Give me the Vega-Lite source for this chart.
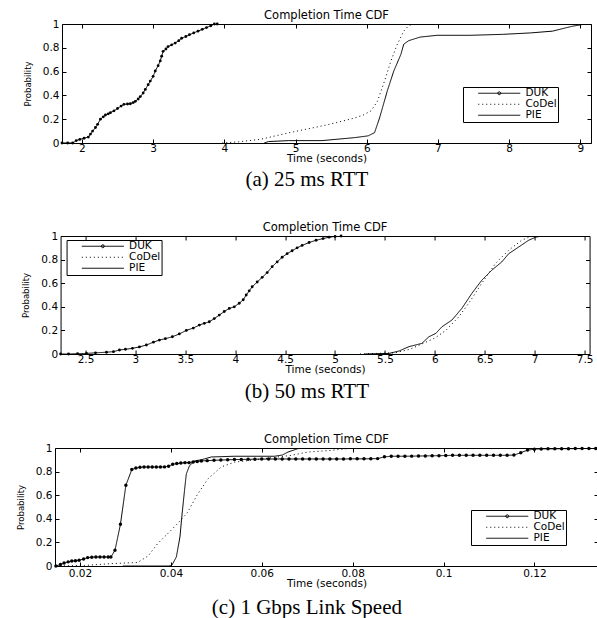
{
  "$schema": "https://vega.github.io/schema/vega-lite/v6.json",
  "padding": {"left": 14, "top": 9, "right": 0, "bottom": 0},
  "background": "white",
  "config": {
    "font": "DejaVu Sans",
    "view": {"stroke": "black", "strokeWidth": 1},
    "axis": {
      "grid": false, "domain": false, "tickSize": -4, "tickColor": "black", "tickWidth": 1,
      "labelFont": "DejaVu Sans", "labelFontSize": 10.5, "labelColor": "black", "labelPadding": 7, "labelFlush": false,
      "titleFont": "DejaVu Sans", "titleFontSize": 10.5, "titleFontWeight": "normal", "titleColor": "black", "titlePadding": 0
    },
    "axisX": {"labelPadding": 4},
    "axisY": {"labelPadding": 7, "titleFont": "'Liberation Sans Narrow', 'DejaVu Sans Condensed', 'Liberation Sans', sans-serif", "titleFontSize": 9.5, "titlePadding": 10},
    "title": {"font": "DejaVu Sans", "fontSize": 11.5, "fontWeight": "normal", "color": "black", "offset": -2},
    "legend": {
      "orient": "none", "title": null, "strokeColor": "black", "fillColor": "white", "padding": 1,
      "symbolType": "M-5,0H5", "symbolSize": 70.56, "symbolStrokeColor": "black", "symbolStrokeWidth": 1, "symbolFillColor": "transparent",
      "symbolOffset": 30, "labelOffset": 21,
      "labelFont": "DejaVu Sans", "labelFontSize": 10.5, "labelColor": "black", "rowPadding": 0
    }
  },
  "datasets": {
    "p1": [
      {"t": 1.72, "p": 0, "s": "DUK"}, {"t": 1.80, "p": 0, "s": "DUK"}, {"t": 1.87, "p": 0, "s": "DUK"}, {"t": 1.92, "p": 0.02, "s": "DUK"},
      {"t": 1.97, "p": 0.03, "s": "DUK"}, {"t": 2.03, "p": 0.04, "s": "DUK"}, {"t": 2.09, "p": 0.05, "s": "DUK"}, {"t": 2.12, "p": 0.075, "s": "DUK"},
      {"t": 2.15, "p": 0.10, "s": "DUK"}, {"t": 2.19, "p": 0.13, "s": "DUK"}, {"t": 2.22, "p": 0.157, "s": "DUK"}, {"t": 2.26, "p": 0.20, "s": "DUK"},
      {"t": 2.30, "p": 0.22, "s": "DUK"}, {"t": 2.33, "p": 0.235, "s": "DUK"}, {"t": 2.37, "p": 0.245, "s": "DUK"}, {"t": 2.40, "p": 0.255, "s": "DUK"},
      {"t": 2.45, "p": 0.27, "s": "DUK"}, {"t": 2.50, "p": 0.29, "s": "DUK"}, {"t": 2.55, "p": 0.31, "s": "DUK"}, {"t": 2.59, "p": 0.325, "s": "DUK"},
      {"t": 2.64, "p": 0.328, "s": "DUK"}, {"t": 2.68, "p": 0.33, "s": "DUK"}, {"t": 2.72, "p": 0.34, "s": "DUK"}, {"t": 2.75, "p": 0.35, "s": "DUK"},
      {"t": 2.79, "p": 0.37, "s": "DUK"}, {"t": 2.82, "p": 0.39, "s": "DUK"}, {"t": 2.86, "p": 0.42, "s": "DUK"}, {"t": 2.89, "p": 0.45, "s": "DUK"},
      {"t": 2.93, "p": 0.49, "s": "DUK"}, {"t": 2.96, "p": 0.52, "s": "DUK"}, {"t": 3.00, "p": 0.56, "s": "DUK"}, {"t": 3.03, "p": 0.605, "s": "DUK"},
      {"t": 3.07, "p": 0.65, "s": "DUK"}, {"t": 3.10, "p": 0.69, "s": "DUK"}, {"t": 3.12, "p": 0.73, "s": "DUK"}, {"t": 3.14, "p": 0.77, "s": "DUK"},
      {"t": 3.18, "p": 0.79, "s": "DUK"}, {"t": 3.21, "p": 0.81, "s": "DUK"}, {"t": 3.26, "p": 0.825, "s": "DUK"}, {"t": 3.31, "p": 0.84, "s": "DUK"},
      {"t": 3.36, "p": 0.86, "s": "DUK"}, {"t": 3.40, "p": 0.88, "s": "DUK"}, {"t": 3.46, "p": 0.895, "s": "DUK"}, {"t": 3.51, "p": 0.91, "s": "DUK"},
      {"t": 3.57, "p": 0.925, "s": "DUK"}, {"t": 3.63, "p": 0.94, "s": "DUK"}, {"t": 3.69, "p": 0.955, "s": "DUK"}, {"t": 3.75, "p": 0.97, "s": "DUK"},
      {"t": 3.81, "p": 0.985, "s": "DUK"}, {"t": 3.86, "p": 1.0, "s": "DUK"}, {"t": 3.90, "p": 1.0, "s": "DUK"},
      {"t": 3.97, "p": 0, "s": "CoDel"}, {"t": 4.2, "p": 0.01, "s": "CoDel"}, {"t": 4.5, "p": 0.03, "s": "CoDel"}, {"t": 4.9, "p": 0.085, "s": "CoDel"},
      {"t": 5.1, "p": 0.11, "s": "CoDel"}, {"t": 5.37, "p": 0.143, "s": "CoDel"}, {"t": 5.6, "p": 0.175, "s": "CoDel"}, {"t": 5.83, "p": 0.21, "s": "CoDel"},
      {"t": 5.95, "p": 0.235, "s": "CoDel"}, {"t": 6.06, "p": 0.27, "s": "CoDel"}, {"t": 6.15, "p": 0.35, "s": "CoDel"}, {"t": 6.25, "p": 0.52, "s": "CoDel"},
      {"t": 6.34, "p": 0.69, "s": "CoDel"}, {"t": 6.43, "p": 0.83, "s": "CoDel"}, {"t": 6.52, "p": 0.94, "s": "CoDel"}, {"t": 6.58, "p": 0.98, "s": "CoDel"},
      {"t": 6.64, "p": 1.0, "s": "CoDel"},
      {"t": 4.56, "p": 0.0, "s": "PIE"}, {"t": 4.62, "p": 0.012, "s": "PIE"}, {"t": 4.9, "p": 0.02, "s": "PIE"}, {"t": 5.37, "p": 0.02, "s": "PIE"},
      {"t": 5.83, "p": 0.045, "s": "PIE"}, {"t": 6.02, "p": 0.06, "s": "PIE"}, {"t": 6.11, "p": 0.087, "s": "PIE"}, {"t": 6.18, "p": 0.21, "s": "PIE"},
      {"t": 6.29, "p": 0.44, "s": "PIE"}, {"t": 6.38, "p": 0.605, "s": "PIE"}, {"t": 6.48, "p": 0.745, "s": "PIE"}, {"t": 6.52, "p": 0.83, "s": "PIE"},
      {"t": 6.59, "p": 0.86, "s": "PIE"}, {"t": 6.75, "p": 0.89, "s": "PIE"}, {"t": 6.99, "p": 0.905, "s": "PIE"}, {"t": 7.45, "p": 0.905, "s": "PIE"},
      {"t": 7.91, "p": 0.913, "s": "PIE"}, {"t": 8.3, "p": 0.925, "s": "PIE"}, {"t": 8.61, "p": 0.94, "s": "PIE"}, {"t": 8.88, "p": 0.98, "s": "PIE"},
      {"t": 9.07, "p": 1.0, "s": "PIE"}, {"t": 9.15, "p": 1.0, "s": "PIE"}
    ],
    "p2": [
      {"t": 2.25, "p": 0, "s": "DUK"}, {"t": 2.33, "p": 0, "s": "DUK"}, {"t": 2.42, "p": 0.003, "s": "DUK"}, {"t": 2.51, "p": 0.005, "s": "DUK"},
      {"t": 2.6, "p": 0.01, "s": "DUK"}, {"t": 2.71, "p": 0.015, "s": "DUK"}, {"t": 2.78, "p": 0.02, "s": "DUK"}, {"t": 2.84, "p": 0.034, "s": "DUK"},
      {"t": 2.9, "p": 0.04, "s": "DUK"}, {"t": 2.97, "p": 0.048, "s": "DUK"}, {"t": 3.04, "p": 0.06, "s": "DUK"}, {"t": 3.11, "p": 0.076, "s": "DUK"},
      {"t": 3.18, "p": 0.1, "s": "DUK"}, {"t": 3.24, "p": 0.118, "s": "DUK"}, {"t": 3.30, "p": 0.13, "s": "DUK"}, {"t": 3.37, "p": 0.146, "s": "DUK"},
      {"t": 3.44, "p": 0.17, "s": "DUK"}, {"t": 3.51, "p": 0.20, "s": "DUK"}, {"t": 3.58, "p": 0.22, "s": "DUK"}, {"t": 3.64, "p": 0.245, "s": "DUK"},
      {"t": 3.69, "p": 0.26, "s": "DUK"}, {"t": 3.74, "p": 0.273, "s": "DUK"}, {"t": 3.79, "p": 0.30, "s": "DUK"}, {"t": 3.84, "p": 0.33, "s": "DUK"},
      {"t": 3.89, "p": 0.36, "s": "DUK"}, {"t": 3.94, "p": 0.386, "s": "DUK"}, {"t": 3.99, "p": 0.40, "s": "DUK"}, {"t": 4.04, "p": 0.43, "s": "DUK"},
      {"t": 4.08, "p": 0.46, "s": "DUK"}, {"t": 4.11, "p": 0.50, "s": "DUK"}, {"t": 4.14, "p": 0.535, "s": "DUK"}, {"t": 4.17, "p": 0.57, "s": "DUK"},
      {"t": 4.22, "p": 0.61, "s": "DUK"}, {"t": 4.27, "p": 0.65, "s": "DUK"}, {"t": 4.32, "p": 0.69, "s": "DUK"}, {"t": 4.37, "p": 0.74, "s": "DUK"},
      {"t": 4.42, "p": 0.78, "s": "DUK"}, {"t": 4.47, "p": 0.82, "s": "DUK"}, {"t": 4.52, "p": 0.85, "s": "DUK"}, {"t": 4.57, "p": 0.875, "s": "DUK"},
      {"t": 4.62, "p": 0.90, "s": "DUK"}, {"t": 4.67, "p": 0.92, "s": "DUK"}, {"t": 4.74, "p": 0.945, "s": "DUK"}, {"t": 4.81, "p": 0.964, "s": "DUK"},
      {"t": 4.88, "p": 0.978, "s": "DUK"}, {"t": 4.94, "p": 0.99, "s": "DUK"}, {"t": 5.0, "p": 0.996, "s": "DUK"}, {"t": 5.06, "p": 1.0, "s": "DUK"},
      {"t": 5.25, "p": 0, "s": "CoDel"}, {"t": 5.6, "p": 0.01, "s": "CoDel"}, {"t": 5.75, "p": 0.04, "s": "CoDel"}, {"t": 5.87, "p": 0.085, "s": "CoDel"},
      {"t": 6.0, "p": 0.135, "s": "CoDel"}, {"t": 6.11, "p": 0.20, "s": "CoDel"}, {"t": 6.24, "p": 0.315, "s": "CoDel"}, {"t": 6.36, "p": 0.456, "s": "CoDel"},
      {"t": 6.47, "p": 0.60, "s": "CoDel"}, {"t": 6.61, "p": 0.77, "s": "CoDel"}, {"t": 6.74, "p": 0.88, "s": "CoDel"}, {"t": 6.87, "p": 0.964, "s": "CoDel"},
      {"t": 6.97, "p": 1.0, "s": "CoDel"},
      {"t": 5.3, "p": 0, "s": "PIE"}, {"t": 5.54, "p": 0.005, "s": "PIE"}, {"t": 5.64, "p": 0.025, "s": "PIE"}, {"t": 5.74, "p": 0.062, "s": "PIE"},
      {"t": 5.87, "p": 0.09, "s": "PIE"}, {"t": 5.94, "p": 0.146, "s": "PIE"}, {"t": 6.01, "p": 0.175, "s": "PIE"}, {"t": 6.07, "p": 0.23, "s": "PIE"},
      {"t": 6.17, "p": 0.287, "s": "PIE"}, {"t": 6.27, "p": 0.386, "s": "PIE"}, {"t": 6.37, "p": 0.513, "s": "PIE"}, {"t": 6.47, "p": 0.625, "s": "PIE"},
      {"t": 6.57, "p": 0.71, "s": "PIE"}, {"t": 6.67, "p": 0.78, "s": "PIE"}, {"t": 6.74, "p": 0.85, "s": "PIE"}, {"t": 6.84, "p": 0.907, "s": "PIE"},
      {"t": 6.94, "p": 0.964, "s": "PIE"}, {"t": 7.01, "p": 0.99, "s": "PIE"}, {"t": 7.07, "p": 1.0, "s": "PIE"}, {"t": 7.31, "p": 1.0, "s": "PIE"}
    ],
    "p3": [
      {"t": 0.0147, "p": 0, "s": "DUK"}, {"t": 0.0157, "p": 0.012, "s": "DUK"}, {"t": 0.0165, "p": 0.025, "s": "DUK"}, {"t": 0.0174, "p": 0.035, "s": "DUK"},
      {"t": 0.0182, "p": 0.042, "s": "DUK"}, {"t": 0.0190, "p": 0.045, "s": "DUK"}, {"t": 0.0198, "p": 0.048, "s": "DUK"}, {"t": 0.0208, "p": 0.06, "s": "DUK"},
      {"t": 0.0217, "p": 0.071, "s": "DUK"}, {"t": 0.0226, "p": 0.074, "s": "DUK"}, {"t": 0.0235, "p": 0.076, "s": "DUK"}, {"t": 0.0244, "p": 0.076, "s": "DUK"},
      {"t": 0.0253, "p": 0.076, "s": "DUK"}, {"t": 0.0262, "p": 0.076, "s": "DUK"}, {"t": 0.0268, "p": 0.076, "s": "DUK"}, {"t": 0.0277, "p": 0.133, "s": "DUK"},
      {"t": 0.0289, "p": 0.353, "s": "DUK"}, {"t": 0.0301, "p": 0.684, "s": "DUK"}, {"t": 0.0314, "p": 0.817, "s": "DUK"}, {"t": 0.0323, "p": 0.83, "s": "DUK"},
      {"t": 0.0332, "p": 0.836, "s": "DUK"}, {"t": 0.0341, "p": 0.839, "s": "DUK"}, {"t": 0.0350, "p": 0.839, "s": "DUK"}, {"t": 0.0359, "p": 0.839, "s": "DUK"},
      {"t": 0.0368, "p": 0.839, "s": "DUK"}, {"t": 0.0377, "p": 0.839, "s": "DUK"}, {"t": 0.0386, "p": 0.84, "s": "DUK"}, {"t": 0.0395, "p": 0.845, "s": "DUK"},
      {"t": 0.0404, "p": 0.862, "s": "DUK"}, {"t": 0.0413, "p": 0.868, "s": "DUK"}, {"t": 0.0422, "p": 0.872, "s": "DUK"}, {"t": 0.0431, "p": 0.876, "s": "DUK"},
      {"t": 0.0440, "p": 0.876, "s": "DUK"}, {"t": 0.0449, "p": 0.882, "s": "DUK"}, {"t": 0.0458, "p": 0.886, "s": "DUK"}, {"t": 0.0467, "p": 0.89, "s": "DUK"},
      {"t": 0.048, "p": 0.893, "s": "DUK"}, {"t": 0.0495, "p": 0.896, "s": "DUK"}, {"t": 0.051, "p": 0.898, "s": "DUK"}, {"t": 0.0525, "p": 0.90, "s": "DUK"},
      {"t": 0.054, "p": 0.902, "s": "DUK"}, {"t": 0.0555, "p": 0.903, "s": "DUK"}, {"t": 0.057, "p": 0.904, "s": "DUK"}, {"t": 0.0585, "p": 0.905, "s": "DUK"},
      {"t": 0.060, "p": 0.906, "s": "DUK"}, {"t": 0.0615, "p": 0.906, "s": "DUK"}, {"t": 0.063, "p": 0.907, "s": "DUK"}, {"t": 0.0645, "p": 0.907, "s": "DUK"},
      {"t": 0.066, "p": 0.907, "s": "DUK"}, {"t": 0.0675, "p": 0.907, "s": "DUK"}, {"t": 0.069, "p": 0.907, "s": "DUK"}, {"t": 0.0705, "p": 0.907, "s": "DUK"},
      {"t": 0.072, "p": 0.907, "s": "DUK"}, {"t": 0.0735, "p": 0.907, "s": "DUK"}, {"t": 0.075, "p": 0.907, "s": "DUK"}, {"t": 0.0765, "p": 0.907, "s": "DUK"},
      {"t": 0.078, "p": 0.907, "s": "DUK"}, {"t": 0.0795, "p": 0.908, "s": "DUK"}, {"t": 0.081, "p": 0.908, "s": "DUK"}, {"t": 0.0825, "p": 0.908, "s": "DUK"},
      {"t": 0.084, "p": 0.909, "s": "DUK"}, {"t": 0.0855, "p": 0.91, "s": "DUK"}, {"t": 0.087, "p": 0.925, "s": "DUK"}, {"t": 0.0885, "p": 0.93, "s": "DUK"},
      {"t": 0.090, "p": 0.93, "s": "DUK"}, {"t": 0.0915, "p": 0.93, "s": "DUK"}, {"t": 0.093, "p": 0.931, "s": "DUK"}, {"t": 0.0945, "p": 0.932, "s": "DUK"},
      {"t": 0.096, "p": 0.933, "s": "DUK"}, {"t": 0.0975, "p": 0.934, "s": "DUK"}, {"t": 0.099, "p": 0.935, "s": "DUK"}, {"t": 0.1005, "p": 0.936, "s": "DUK"},
      {"t": 0.102, "p": 0.938, "s": "DUK"}, {"t": 0.1035, "p": 0.938, "s": "DUK"}, {"t": 0.105, "p": 0.938, "s": "DUK"}, {"t": 0.1065, "p": 0.938, "s": "DUK"},
      {"t": 0.108, "p": 0.938, "s": "DUK"}, {"t": 0.1095, "p": 0.938, "s": "DUK"}, {"t": 0.111, "p": 0.938, "s": "DUK"}, {"t": 0.1125, "p": 0.938, "s": "DUK"},
      {"t": 0.114, "p": 0.938, "s": "DUK"}, {"t": 0.1155, "p": 0.94, "s": "DUK"}, {"t": 0.117, "p": 0.96, "s": "DUK"}, {"t": 0.1185, "p": 0.982, "s": "DUK"},
      {"t": 0.120, "p": 0.99, "s": "DUK"}, {"t": 0.1215, "p": 0.992, "s": "DUK"}, {"t": 0.123, "p": 0.993, "s": "DUK"}, {"t": 0.1245, "p": 0.993, "s": "DUK"},
      {"t": 0.126, "p": 0.994, "s": "DUK"}, {"t": 0.1275, "p": 0.994, "s": "DUK"}, {"t": 0.129, "p": 0.995, "s": "DUK"}, {"t": 0.1305, "p": 0.995, "s": "DUK"},
      {"t": 0.132, "p": 0.996, "s": "DUK"}, {"t": 0.1335, "p": 0.996, "s": "DUK"},
      {"t": 0.0147, "p": 0, "s": "CoDel"}, {"t": 0.021, "p": 0.005, "s": "CoDel"}, {"t": 0.0268, "p": 0.02, "s": "CoDel"}, {"t": 0.0327, "p": 0.03, "s": "CoDel"},
      {"t": 0.035, "p": 0.085, "s": "CoDel"}, {"t": 0.0371, "p": 0.19, "s": "CoDel"}, {"t": 0.0393, "p": 0.274, "s": "CoDel"}, {"t": 0.0415, "p": 0.36, "s": "CoDel"},
      {"t": 0.0436, "p": 0.45, "s": "CoDel"}, {"t": 0.0459, "p": 0.61, "s": "CoDel"}, {"t": 0.0482, "p": 0.74, "s": "CoDel"}, {"t": 0.0511, "p": 0.84, "s": "CoDel"},
      {"t": 0.054, "p": 0.88, "s": "CoDel"}, {"t": 0.0585, "p": 0.90, "s": "CoDel"}, {"t": 0.0665, "p": 0.938, "s": "CoDel"}, {"t": 0.0702, "p": 0.966, "s": "CoDel"},
      {"t": 0.0753, "p": 0.98, "s": "CoDel"}, {"t": 0.079, "p": 0.995, "s": "CoDel"}, {"t": 0.081, "p": 1.0, "s": "CoDel"}, {"t": 0.134, "p": 1.0, "s": "CoDel"},
      {"t": 0.0294, "p": 0, "s": "PIE"}, {"t": 0.0395, "p": 0, "s": "PIE"}, {"t": 0.0402, "p": 0.005, "s": "PIE"}, {"t": 0.0412, "p": 0.076, "s": "PIE"},
      {"t": 0.042, "p": 0.246, "s": "PIE"}, {"t": 0.0424, "p": 0.415, "s": "PIE"}, {"t": 0.043, "p": 0.64, "s": "PIE"}, {"t": 0.0434, "p": 0.78, "s": "PIE"},
      {"t": 0.0441, "p": 0.85, "s": "PIE"}, {"t": 0.0452, "p": 0.89, "s": "PIE"}, {"t": 0.0467, "p": 0.90, "s": "PIE"}, {"t": 0.0489, "p": 0.924, "s": "PIE"},
      {"t": 0.054, "p": 0.93, "s": "PIE"}, {"t": 0.0628, "p": 0.93, "s": "PIE"}, {"t": 0.0645, "p": 0.94, "s": "PIE"}, {"t": 0.0658, "p": 0.966, "s": "PIE"},
      {"t": 0.068, "p": 0.995, "s": "PIE"}, {"t": 0.070, "p": 1.0, "s": "PIE"}, {"t": 0.134, "p": 1.0, "s": "PIE"}
    ]
  },
  "vconcat": [
    {
      "title": {"text": "(a) 25 ms RTT", "orient": "bottom", "anchor": "middle", "frame": "bounds", "font": "Liberation Serif", "fontSize": 21, "offset": 4},
      "vconcat": [
        {
          "width": 529, "height": 119,
          "title": {"text": "Completion Time CDF", "frame": "group", "anchor": "middle"},
          "data": {"name": "p1"},
          "layer": [
            {
              "mark": {"type": "line", "strokeWidth": 1, "color": "black", "clip": true},
              "encoding": {
                "x": {"field": "t", "type": "quantitative", "scale": {"domain": [1.72, 9.15], "nice": false, "zero": false}, "axis": {"title": "Time (seconds)", "values": [2, 3, 4, 5, 6, 7, 8, 9], "orient": "bottom", "format": "~g"}},
                "y": {"field": "p", "type": "quantitative", "scale": {"domain": [0, 1], "nice": false}, "axis": {"title": "Probability", "values": [0, 0.2, 0.4, 0.6, 0.8, 1], "orient": "left", "format": "~g"}},
                "strokeDash": {"field": "s", "type": "nominal", "scale": {"domain": ["DUK", "CoDel", "PIE"], "range": [[1, 0], [1, 3], [1, 0]]}, "legend": {"legendX": 401, "legendY": 63, "encode": {"symbols": {"update": {"shape": {"signal": "datum.value === 'DUK' ? 'M-5,0H5M-0.35,0A0.35,0.35,0,1,0,0.35,0A0.35,0.35,0,1,0,-0.35,0' : 'M-5,0H5'"}}}}}}
              }
            },
            {
              "transform": [{"filter": "datum.s === 'DUK'"}],
              "mark": {"type": "point", "filled": true, "size": 8, "color": "black", "opacity": 1},
              "encoding": {
                "x": {"field": "t", "type": "quantitative", "axis": {"orient": "top", "labels": false, "title": null, "values": [2, 3, 4, 5, 6, 7, 8, 9]}},
                "y": {"field": "p", "type": "quantitative", "axis": {"orient": "right", "labels": false, "title": null, "values": [0, 0.2, 0.4, 0.6, 0.8, 1]}}
              }
            }
          ],
          "resolve": {"axis": {"x": "independent", "y": "independent"}}
        }
      ]
    },
    {
      "title": {"text": "(b) 50 ms RTT", "orient": "bottom", "anchor": "middle", "frame": "bounds", "font": "Liberation Serif", "fontSize": 21, "offset": 5},
      "vconcat": [
        {
          "width": 529, "height": 118,
          "title": {"text": "Completion Time CDF", "frame": "group", "anchor": "middle"},
          "data": {"name": "p2"},
          "layer": [
            {
              "mark": {"type": "line", "strokeWidth": 1, "color": "black", "clip": true},
              "encoding": {
                "x": {"field": "t", "type": "quantitative", "scale": {"domain": [2.25, 7.55], "nice": false, "zero": false}, "axis": {"title": "Time (seconds)", "values": [2.5, 3, 3.5, 4, 4.5, 5, 5.5, 6, 6.5, 7, 7.5], "orient": "bottom", "format": "~g"}},
                "y": {"field": "p", "type": "quantitative", "scale": {"domain": [0, 1], "nice": false}, "axis": {"title": "Probability", "values": [0, 0.2, 0.4, 0.6, 0.8, 1], "orient": "left", "format": "~g"}},
                "strokeDash": {"field": "s", "type": "nominal", "scale": {"domain": ["DUK", "CoDel", "PIE"], "range": [[1, 0], [1, 3], [1, 0]]}, "legend": {"legendX": 6, "legendY": 4, "encode": {"symbols": {"update": {"shape": {"signal": "datum.value === 'DUK' ? 'M-5,0H5M-0.35,0A0.35,0.35,0,1,0,0.35,0A0.35,0.35,0,1,0,-0.35,0' : 'M-5,0H5'"}}}}}}
              }
            },
            {
              "transform": [{"filter": "datum.s === 'DUK'"}],
              "mark": {"type": "point", "filled": true, "size": 8, "color": "black", "opacity": 1},
              "encoding": {
                "x": {"field": "t", "type": "quantitative", "axis": {"orient": "top", "labels": false, "title": null, "values": [2.5, 3, 3.5, 4, 4.5, 5, 5.5, 6, 6.5, 7, 7.5]}},
                "y": {"field": "p", "type": "quantitative", "axis": {"orient": "right", "labels": false, "title": null, "values": [0, 0.2, 0.4, 0.6, 0.8, 1]}}
              }
            }
          ],
          "resolve": {"axis": {"x": "independent", "y": "independent"}}
        }
      ]
    },
    {
      "title": {"text": "(c) 1 Gbps Link Speed", "orient": "bottom", "anchor": "middle", "frame": "bounds", "font": "Liberation Serif", "fontSize": 21, "offset": 7},
      "vconcat": [
        {
          "width": 543, "height": 118,
          "title": {"text": "Completion Time CDF", "frame": "group", "anchor": "middle"},
          "data": {"name": "p3"},
          "layer": [
            {
              "mark": {"type": "line", "strokeWidth": 1, "color": "black", "clip": true},
              "encoding": {
                "x": {"field": "t", "type": "quantitative", "scale": {"domain": [0.0145, 0.134], "nice": false, "zero": false}, "axis": {"title": "Time (seconds)", "values": [0.02, 0.04, 0.06, 0.08, 0.1, 0.12], "orient": "bottom", "format": "~g", "labelPadding": 6}},
                "y": {"field": "p", "type": "quantitative", "scale": {"domain": [0, 1], "nice": false}, "axis": {"title": "Probability", "values": [0, 0.2, 0.4, 0.6, 0.8, 1], "orient": "left", "format": "~g"}},
                "strokeDash": {"field": "s", "type": "nominal", "scale": {"domain": ["DUK", "CoDel", "PIE"], "range": [[1, 0], [1, 3], [1, 0]]}, "legend": {"legendX": 416, "legendY": 62, "encode": {"symbols": {"update": {"shape": {"signal": "datum.value === 'DUK' ? 'M-5,0H5M-0.35,0A0.35,0.35,0,1,0,0.35,0A0.35,0.35,0,1,0,-0.35,0' : 'M-5,0H5'"}}}}}}
              }
            },
            {
              "transform": [{"filter": "datum.s === 'DUK'"}],
              "mark": {"type": "point", "filled": true, "size": 12, "color": "black", "opacity": 1},
              "encoding": {
                "x": {"field": "t", "type": "quantitative", "axis": {"orient": "top", "labels": false, "title": null, "values": [0.02, 0.04, 0.06, 0.08, 0.1, 0.12]}},
                "y": {"field": "p", "type": "quantitative", "axis": {"orient": "right", "labels": false, "title": null, "values": [0, 0.2, 0.4, 0.6, 0.8, 1]}}
              }
            }
          ],
          "resolve": {"axis": {"x": "independent", "y": "independent"}}
        }
      ]
    }
  ],
  "spacing": 31,
  "center": true,
  "resolve": {"scale": {"strokeDash": "independent"}, "legend": {"strokeDash": "independent"}}
}
